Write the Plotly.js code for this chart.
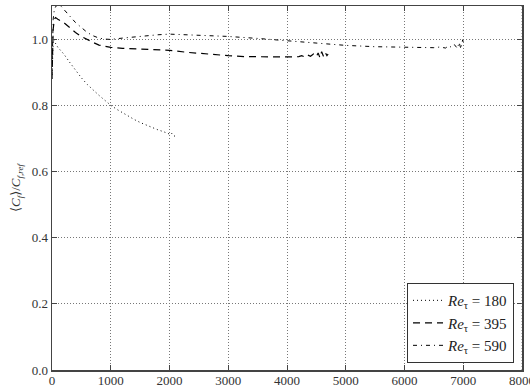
<!DOCTYPE html>
<html>
<head>
<meta charset="utf-8">
<script src="https://cdn.plot.ly/plotly-3.0.1.min.js"></script>
<style>html,body{margin:0;padding:0;background:#fff;}#chart{width:530px;height:387px;}</style>
</head>
<body>
<div id="chart"></div>
<script>
// Re_tau = 180 (dotted)
const x180 = [0,5,10,15,20,30,50,100,200,300,400,500,600,700,800,900,1000,1100,1200,1300,1400,1500,1600,1700,1800,1900,1950,2000,2030,2060,2100];
const y180 = [0.88,0.95,0.9,0.97,0.99,1.0,0.99,0.975,0.955,0.93,0.905,0.883,0.863,0.845,0.83,0.815,0.8,0.788,0.777,0.767,0.757,0.748,0.74,0.733,0.726,0.72,0.717,0.713,0.717,0.709,0.706];
// Re_tau = 395 (dashed)
const x395 = [0,5,10,20,40,60,100,150,200,300,400,500,600,700,800,1000,1200,1500,1800,2000,2300,2600,3000,3300,3600,3900,4100,4200,4250,4300,4350,4400,4450,4500,4530,4560,4590,4620,4650,4680,4700];
const y395 = [0.88,0.96,0.92,1.03,1.06,1.065,1.06,1.055,1.05,1.035,1.02,1.008,0.998,0.99,0.982,0.975,0.972,0.969,0.967,0.966,0.96,0.955,0.95,0.947,0.946,0.945,0.946,0.947,0.95,0.946,0.952,0.948,0.955,0.947,0.958,0.944,0.962,0.948,0.96,0.95,0.955];
// Re_tau = 590 (dash-dot)
const x590 = [0,5,10,20,40,70,100,150,200,300,400,500,600,700,800,900,1000,1200,1500,1800,2000,2200,2500,3000,3500,4000,4500,5000,5500,6000,6300,6500,6600,6700,6750,6800,6850,6900,6930,6960,6990,7010];
const y590 = [0.9,0.97,1.0,1.06,1.09,1.1,1.105,1.1,1.09,1.07,1.05,1.035,1.02,1.01,1.003,1.0,0.999,1.003,1.009,1.013,1.015,1.014,1.012,1.008,1.002,0.995,0.987,0.981,0.977,0.975,0.973,0.974,0.976,0.973,0.98,0.975,0.983,0.972,0.99,0.97,0.998,0.985];

const xTickVals = [0,1000,2000,3000,4000,5000,6000,7000,8000];
const names = ['<i>Re</i><sub>τ</sub> = 180', '<i>Re</i><sub>τ</sub> = 395', '<i>Re</i><sub>τ</sub> = 590'];

const FONT = 'Liberation Serif, DejaVu Serif, serif';

const traces = [
  {x: x180, y: y180, name: names[0], mode: 'lines', line: {color: '#000', width: 1, dash: '1px,3px'}},
  {x: x395, y: y395, name: names[1], mode: 'lines', line: {color: '#000', width: 1.2, dash: '7px,5px'}},
  {x: x590, y: y590, name: names[2], mode: 'lines', line: {color: '#000', width: 1, dash: '4px,4px,1px,4px'}}
];

const axisCommon = {
  showline: true, linecolor: '#444', linewidth: 1.5, mirror: 'ticks',
  ticks: 'inside', ticklen: 5, tickcolor: '#444',
  showgrid: true, gridcolor: '#777', griddash: '1px,2px', gridwidth: 1,
  zeroline: false,
  tickfont: {family: FONT, size: 13, color: '#333'}
};

const layout = {
  width: 530, height: 387,
  margin: {l: 52, r: 8, t: 6, b: 17},
  paper_bgcolor: '#fff', plot_bgcolor: '#fff',
  showlegend: true,
  xaxis: Object.assign({}, axisCommon, {range: [0, 8000], tickmode: 'array',
    tickvals: xTickVals.slice(0, 8), ticktext: xTickVals.slice(0, 8).map(String), ticklabelstandoff: -2}),
  yaxis: Object.assign({}, axisCommon, {range: [0, 1.1], dtick: 0.2, tick0: 0, tickformat: '.1f',
    title: {text: '⟨<i>C<sub>f</sub></i>⟩/<i>C<sub>f,ref</sub></i>', standoff: 8,
      font: {family: FONT, size: 13, color: '#333'}}}),
  legend: {x: 0.983, y: 0.019, xanchor: 'right', yanchor: 'bottom',
    bgcolor: '#fff', bordercolor: '#333', borderwidth: 1,
    font: {family: FONT, size: 15, color: '#222'},
    itemwidth: 30, tracegroupgap: 2},
  annotations: [{x: xTickVals[8], y: 0, xref: 'x', yref: 'paper', text: String(xTickVals[8]),
    showarrow: false, xanchor: 'center', yanchor: 'top', yshift: -1,
    font: {family: FONT, size: 13, color: '#333'}}],
  shapes: [{type: 'line', xref: 'x', yref: 'paper', x0: 8000, x1: 8000, y0: 0, y1: 1,
    line: {color: '#777', width: 1, dash: '1px,2px'}}]
};

Plotly.newPlot('chart', traces, layout, {displayModeBar: false, staticPlot: true});
</script>
</body>
</html>
